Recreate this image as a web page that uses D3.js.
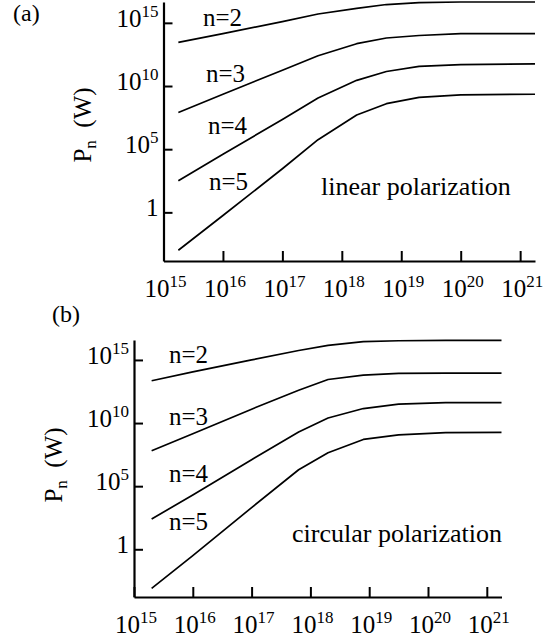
<!DOCTYPE html>
<html><head><meta charset="utf-8">
<script src="https://cdn.jsdelivr.net/npm/d3@7"></script>
<style>
html,body{margin:0;padding:0;background:#fff;}
text{font-family:"Liberation Serif","Times New Roman","DejaVu Serif",serif;fill:#000;}
</style></head>
<body><svg id="c" width="552" height="643"></svg>
<script>
// ---- data (log10 values) ----
const xTickExps = [15, 16, 17, 18, 19, 20, 21];
const yTickExps = [0, 5, 10, 15];
const seriesNames = ["n=2", "n=3", "n=4", "n=5"];

// (a) linear polarization : log10 intensity and log10 P_n
const linearLogI = [15.25, 16, 17, 17.6, 18.25, 18.75, 19.3, 20, 21.25];
const linearN2 = [13.45, 14.15, 15.1, 15.7, 16.15, 16.45, 16.6, 16.65, 16.65];
const linearN3 = [7.9, 9.35, 11.25, 12.4, 13.35, 13.8, 14.0, 14.15, 14.15];
const linearN4 = [2.5, 4.6, 7.35, 9.05, 10.45, 11.15, 11.55, 11.7, 11.75];
const linearN5 = [-3.0, -0.25, 3.45, 5.75, 7.7, 8.6, 9.1, 9.3, 9.35];

// (b) circular polarization
const circularLogI = [15.3, 16, 17, 17.8, 18.3, 18.9, 19.5, 20.3, 21.25];
const circularN2 = [13.35, 14.05, 15.0, 15.75, 16.15, 16.45, 16.52, 16.55, 16.55];
const circularN3 = [7.8, 9.15, 11.1, 12.6, 13.45, 13.8, 13.93, 13.96, 13.96];
const circularN4 = [2.4, 4.3, 7.1, 9.3, 10.4, 11.15, 11.5, 11.62, 11.62];
const circularN5 = [-3.1, -0.5, 3.3, 6.3, 7.65, 8.7, 9.06, 9.24, 9.26];

const panels = [
  {tag: "(a)", tagX: 13, tagY: 21, note: "linear polarization",
   logI: linearLogI, series: [linearN2, linearN3, linearN4, linearN5],
   x0: 163.5, x1: 535, yBot: 261, yTop: 2, pBot: -3.85, pTop: 16.65, xMax: 21.25,
   nLab: [[203, 26], [206, 82], [208, 134], [209, 190]], noteX: 321, noteY: 195, ylabX: 91, ylabY: 125},
  {tag: "(b)", tagX: 52, tagY: 322, note: "circular polarization",
   logI: circularLogI, series: [circularN2, circularN3, circularN4, circularN5],
   x0: 134, x1: 501.5, yBot: 597, yTop: 340, pBot: -3.78, pTop: 16.58, xMax: 21.25,
   nLab: [[169, 363], [169, 425], [169, 482], [169, 530]], noteX: 292, noteY: 542, ylabX: 62, ylabY: 465}
];

const svg = d3.select("#c");

panels.forEach(p => {
  const g = svg.append("g");
  const x = d3.scaleLog().domain([1e15, Math.pow(10, p.xMax)]).range([p.x0, p.x1]);
  const y = d3.scaleLog().domain([Math.pow(10, p.pBot), Math.pow(10, p.pTop)]).range([p.yBot, p.yTop]);

  // axes (inward ticks)
  const xa = g.append("g").attr("transform", `translate(0,${p.yBot})`)
    .call(d3.axisBottom(x).tickValues(xTickExps.map(e => Math.pow(10, e))).tickSize(-10).tickSizeOuter(0).tickFormat(""));
  const ya = g.append("g").attr("transform", `translate(${p.x0},0)`)
    .call(d3.axisLeft(y).tickValues(yTickExps.map(e => Math.pow(10, e))).tickSize(-9).tickSizeOuter(0).tickFormat(""));
  [xa, ya].forEach(a => {
    a.select(".domain").attr("stroke", "#000").attr("stroke-width", 2.2);
    a.selectAll(".tick line").attr("stroke", "#000").attr("stroke-width", 2);
  });

  // x tick labels
  xTickExps.forEach(e => {
    const t = g.append("text").attr("x", x(Math.pow(10, e)) + 2).attr("y", p.yBot + 36)
      .attr("text-anchor", "middle").attr("font-size", 25);
    t.append("tspan").text("10");
    t.append("tspan").attr("dy", -10).attr("font-size", 17).text(e);
  });
  // y tick labels
  yTickExps.forEach(e => {
    const t = g.append("text").attr("x", p.x0 - 5).attr("y", y(Math.pow(10, e)) + 4)
      .attr("text-anchor", "end").attr("font-size", 25);
    if (e === 0) { t.text("1"); }
    else {
      t.append("tspan").text("10");
      t.append("tspan").attr("dy", -10).attr("font-size", 17).text(e);
    }
  });

  // y label
  const yl = g.append("text").attr("transform", `translate(${p.ylabX},${p.ylabY}) rotate(-90)`)
    .attr("text-anchor", "middle").attr("font-size", 25);
  yl.append("tspan").text("P");
  yl.append("tspan").attr("dy", 5).attr("font-size", 17).text("n");
  yl.append("tspan").attr("dy", -5).text("\u00a0\u00a0(W)");

  // curves
  const line = d3.line().x(d => x(Math.pow(10, d[0]))).y(d => y(Math.pow(10, d[1])));
  p.series.forEach((s, i) => {
    const pts = p.logI.map((v, k) => [v, s[k]]);
    g.append("path").attr("d", line(pts)).attr("fill", "none")
      .attr("stroke", "#000").attr("stroke-width", 1.7).attr("stroke-linejoin", "round");
    g.append("text").attr("x", p.nLab[i][0]).attr("y", p.nLab[i][1]).attr("font-size", 25).text(seriesNames[i]);
  });

  g.append("text").attr("x", p.noteX).attr("y", p.noteY).attr("font-size", 26).text(p.note);
  svg.append("text").attr("x", p.tagX).attr("y", p.tagY).attr("font-size", 24).text(p.tag);
});
</script></body></html>
